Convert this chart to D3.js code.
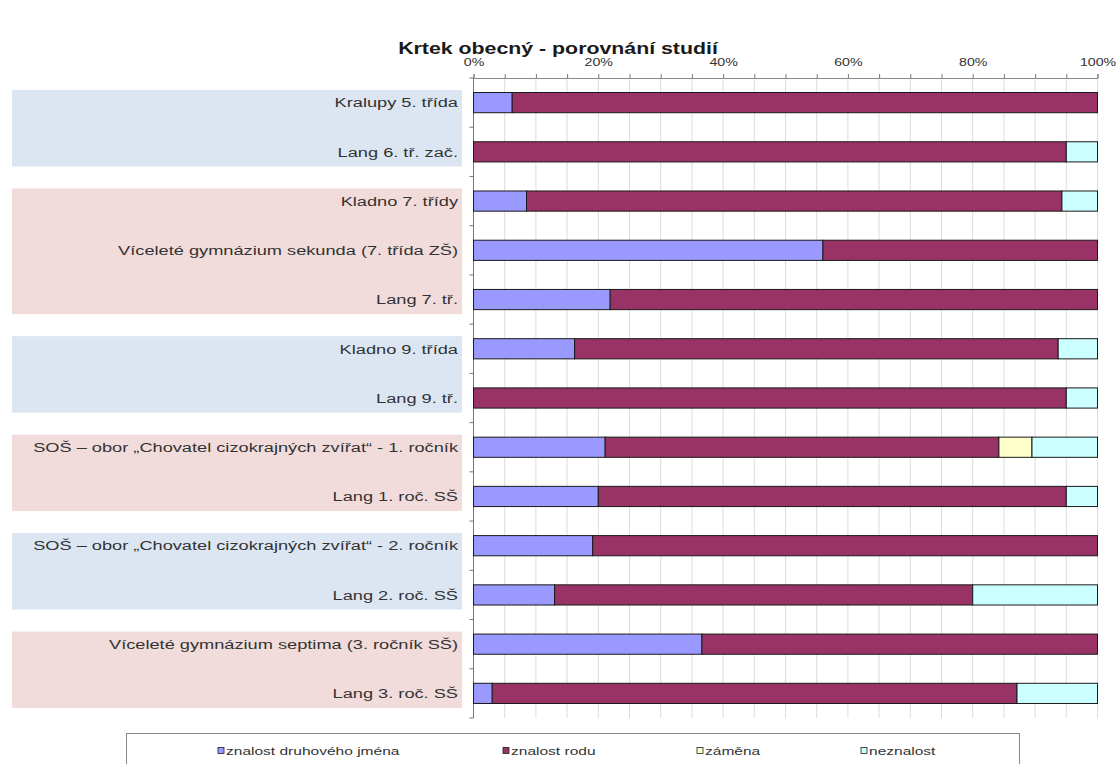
<!DOCTYPE html>
<html>
<head>
<meta charset="utf-8">
<script src="https://cdn.jsdelivr.net/npm/d3@7"></script>
<style>
  html, body { margin: 0; padding: 0; background: #fff; }
  svg { display: block; font-family: "Liberation Sans", Arial, sans-serif; }
</style>
</head>
<body>
<svg id="chart" width="1116" height="764"></svg>
<script>
// Categories (top to bottom)
const categories = [
  "Kralupy 5. třída",
  "Lang 6. tř. zač.",
  "Kladno 7. třídy",
  "Víceleté gymnázium sekunda (7. třída ZŠ)",
  "Lang 7. tř.",
  "Kladno 9. třída",
  "Lang 9. tř.",
  "SOŠ – obor „Chovatel cizokrajných zvířat“ - 1. ročník",
  "Lang 1. roč. SŠ",
  "SOŠ – obor „Chovatel cizokrajných zvířat“ - 2. ročník",
  "Lang 2. roč. SŠ",
  "Víceleté gymnázium septima (3. ročník SŠ)",
  "Lang 3. roč. SŠ"
];

// Series values, percent of pupils
const znalostDruhu = [6.2, 0, 8.5, 56, 21.9, 16.2, 0, 21.1, 20, 19.1, 13, 36.6, 3];
const znalostRodu  = [93.8, 95, 85.8, 44, 78.1, 77.5, 95, 63.1, 75, 80.9, 67, 63.4, 84.1];
const zamena       = [0, 0, 0, 0, 0, 0, 0, 5.3, 0, 0, 0, 0, 0];
const neznalost    = [0, 5, 5.7, 0, 0, 6.3, 5, 10.5, 5, 0, 20, 0, 12.9];

const seriesNames = ["znalost druhového jména", "znalost rodu", "záměna", "neznalost"];
const tickLabels = [0, 20, 40, 60, 80, 100];

// Group shading: [first row, last row, kind]
const groups = [[0, 1, "a"], [2, 4, "b"], [5, 6, "a"], [7, 8, "b"], [9, 10, "a"], [11, 12, "b"]];

const colors = ["#9999FF", "#993366", "#FFFFCC", "#CCFFFF"];
const bandFill = { a: "#DCE6F2", b: "#F2DCDB" };

// Text in this chart is set in a wide face: horizontal stretch factor
const WIDE = 1.35;

const rows = categories.map((c, i) => ({
  cat: c,
  [seriesNames[0]]: znalostDruhu[i],
  [seriesNames[1]]: znalostRodu[i],
  [seriesNames[2]]: zamena[i],
  [seriesNames[3]]: neznalost[i]
}));

const svg = d3.select("#chart");
const plot = { left: 473.5, right: 1097.5, top: 78, bottom: 718 };

const x = d3.scaleLinear().domain([0, 100]).range([plot.left, plot.right]);
const y = d3.scaleBand().domain(categories).range([plot.top, plot.bottom])
  .paddingInner(0.59).paddingOuter(0.295);
const step = y.step();
const rowTop = i => plot.top + i * step;

// Shaded group panels behind the labels
svg.append("g").selectAll("rect").data(groups).join("rect")
  .attr("x", 12)
  .attr("width", 450)
  .attr("y", d => rowTop(d[0]) + 12)
  .attr("height", d => rowTop(d[1] + 1) - 10 - (rowTop(d[0]) + 12))
  .attr("fill", d => bandFill[d[2]]);

// Title
svg.append("text")
  .attr("transform", `translate(558,54) scale(${WIDE},1)`)
  .attr("text-anchor", "middle")
  .attr("font-size", 15.8).attr("font-weight", "bold")
  .attr("fill", "#1a1a1a")
  .text("Krtek obecný - porovnání studií");

// Vertical gridlines every 5 %
const minor = d3.range(0, 101, 5);
svg.append("g").selectAll("line").data(minor.filter(v => v > 0)).join("line")
  .attr("x1", d => x(d)).attr("x2", d => x(d))
  .attr("y1", plot.top).attr("y2", plot.bottom)
  .attr("stroke", "#dcdcdc").attr("stroke-width", 1);

// Top axis
const xAxis = d3.axisTop(x).tickValues(minor).tickSize(4)
  .tickFormat(d => tickLabels.includes(d) ? d + "%" : "");
const gx = svg.append("g").attr("transform", `translate(0,${plot.top})`).call(xAxis);
gx.select(".domain").attr("stroke", "#888");
gx.selectAll(".tick line").attr("stroke", "#777");
gx.selectAll(".tick text")
  .attr("y", 0).attr("dy", 0)
  .attr("transform", `translate(0,-12) scale(${WIDE},1)`)
  .attr("font-size", 10.5).attr("fill", "#333")
  .attr("font-family", "'Liberation Sans', Arial, sans-serif");

// Left axis with ticks between categories
svg.append("line")
  .attr("x1", plot.left).attr("x2", plot.left)
  .attr("y1", plot.top).attr("y2", plot.bottom)
  .attr("stroke", "#777");
svg.append("g").selectAll("line").data(d3.range(0, categories.length + 1)).join("line")
  .attr("x1", plot.left - 4).attr("x2", plot.left)
  .attr("y1", d => rowTop(d)).attr("y2", d => rowTop(d))
  .attr("stroke", "#777");

// Category labels
svg.append("g").selectAll("text").data(categories).join("text")
  .attr("transform", d => `translate(458,${y(d) + y.bandwidth() / 2}) scale(${WIDE},1)`)
  .attr("dy", "0.35em")
  .attr("text-anchor", "end")
  .attr("font-size", 13.5)
  .attr("fill", "#333")
  .text(d => d);

// Stacked bars
const stack = d3.stack().keys(seriesNames)(rows);
svg.append("g").selectAll("g").data(stack).join("g")
  .attr("fill", (d, i) => colors[i])
  .selectAll("rect").data(d => d.filter(s => s[1] - s[0] > 0)).join("rect")
  .attr("x", d => x(d[0]))
  .attr("width", d => x(d[1]) - x(d[0]))
  .attr("y", d => y(d.data.cat))
  .attr("height", y.bandwidth())
  .attr("stroke", "#1a1a1a").attr("stroke-width", 1);

// Legend
const legend = svg.append("g");
legend.append("rect")
  .attr("x", 126.5).attr("y", 733.5).attr("width", 893).attr("height", 40)
  .attr("fill", "#fff").attr("stroke", "#888");
const legendX = [218, 503, 697, 861];
const items = legend.selectAll("g").data(seriesNames).join("g")
  .attr("transform", (d, i) => `translate(${legendX[i]},751)`);
items.append("rect")
  .attr("x", 0).attr("y", -3.5).attr("width", 6).attr("height", 6)
  .attr("fill", (d, i) => colors[i]).attr("stroke", "#222").attr("stroke-width", 0.8);
items.append("text")
  .attr("transform", `translate(8,0) scale(${WIDE},1)`)
  .attr("dy", "0.35em")
  .attr("font-size", 11.5).attr("fill", "#333")
  .text(d => d);
</script>
</body>
</html>
